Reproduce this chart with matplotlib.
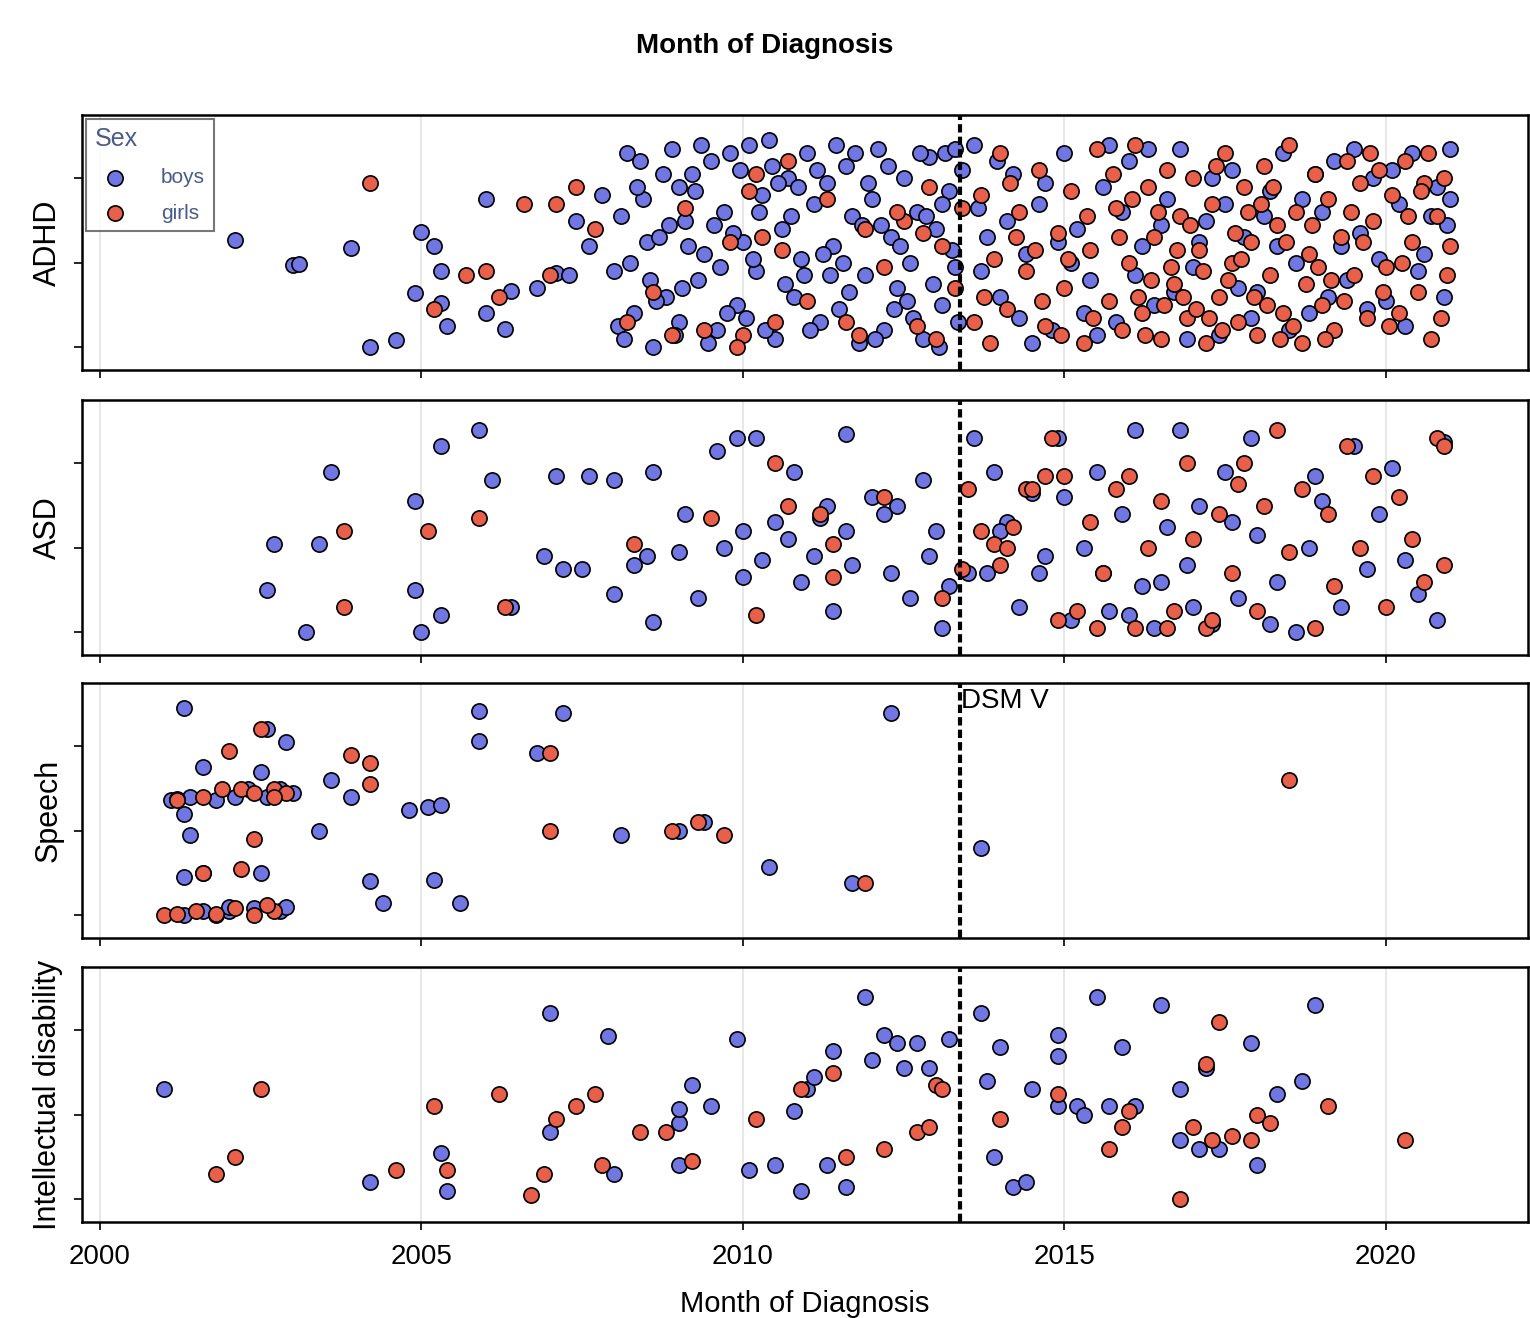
import matplotlib.pyplot as plt

plt.rcParams["font.family"] = "Liberation Sans"

# --- data: (year, jittered y) ---
adhd_boys = [(2002.1,1.27),(2003.0,0.97),(2003.1,0.98),(2003.9,1.17),(2004.2,0.0),(2004.6,0.08),
    (2005.0,1.36),(2004.9,0.64),(2005.2,1.2),(2005.3,0.9),(2005.4,0.25),(2005.3,0.52),(2006.0,0.4),
    (2006.0,1.76),(2006.4,0.66),(2006.3,0.22),(2006.8,0.7),(2007.1,0.88),(2007.3,0.85),(2007.4,1.5),
    (2007.6,1.2),(2007.8,1.8),(2008.0,0.9),(2008.1,1.55),(2008.2,2.3),(2008.3,0.4),(2008.4,2.2),(2008.5,1.25),
    (2008.6,0.0),(2008.7,1.3),(2008.8,0.6),(2008.9,2.35),(2009.0,1.9),(2009.0,0.3),(2009.1,1.5),(2009.2,2.05),
    (2009.3,0.8),(2009.4,1.1),(2009.5,2.2),(2009.6,0.2),(2009.7,1.6),(2009.8,2.3),(2009.9,0.5),(2010.0,1.25),
    (2010.1,2.4),(2010.2,0.9),(2010.3,1.8),(2010.4,2.45),(2010.5,0.1),(2010.6,1.4),(2010.7,2.0),(2010.8,0.6),
    (2010.9,1.05),(2011.0,2.3),(2011.1,1.7),(2011.2,0.3),(2011.3,1.95),(2011.4,1.2),(2011.5,0.45),(2011.6,2.15),
    (2011.7,1.55),(2011.8,0.05),(2011.9,0.85),(2012.0,1.75),(2012.1,2.35),(2012.2,0.2),(2012.3,1.3),(2012.4,0.7),
    (2012.5,2.0),(2012.6,1.0),(2012.7,1.6),(2012.8,0.1),(2012.9,2.25),(2013.0,1.4),(2013.1,0.5),(2013.2,1.85),
    (2013.3,0.95),(2013.4,2.1),
    (2008.05,0.25),(2008.25,1.0),(2008.45,1.75),(2008.65,0.55),(2008.85,1.45),(2009.05,0.7),(2009.25,1.85),
    (2009.45,0.05),(2009.65,0.95),(2009.85,1.35),(2010.05,0.35),(2010.25,1.6),(2010.45,2.15),(2010.65,0.75),
    (2010.85,1.9),(2011.05,0.2),(2011.25,1.1),(2011.45,2.4),(2011.65,0.65),(2011.85,1.45),(2012.05,0.1),
    (2012.25,2.15),(2012.45,1.2),(2012.65,0.35),(2012.85,1.55),(2013.05,0.0),(2013.25,1.15),(2013.35,0.3),
    (2010.15,1.05),(2010.75,1.55),(2011.35,0.85),(2011.95,1.95),(2012.55,0.55),(2013.15,2.3),(2009.35,2.4),
    (2008.15,0.1),(2008.35,1.9),(2008.55,0.8),(2008.75,2.05),(2008.95,0.15),(2009.15,1.2),(2009.55,1.45),
    (2009.75,0.4),(2009.95,2.1),(2010.35,0.2),(2010.55,1.95),(2010.95,0.85),(2011.15,2.1),(2011.55,1.0),
    (2011.75,2.3),(2012.15,1.45),(2012.35,0.45),(2012.75,2.3),(2012.95,0.75),(2013.1,1.7),(2013.3,2.35),
    (2013.6,2.4),(2013.8,1.3),(2014.0,0.6),(2014.2,2.05),(2014.4,1.1),(2014.6,1.7),(2014.8,0.2),(2015.0,2.3),
    (2015.2,1.4),(2015.4,0.8),(2015.6,1.9),(2015.8,0.3),(2016.0,2.2),(2016.2,1.2),(2016.4,0.5),(2016.6,1.75),
    (2016.8,2.35),(2017.0,0.95),(2017.2,1.5),(2017.4,0.15),(2017.6,2.1),(2017.8,1.3),(2018.0,0.65),(2018.2,1.85),
    (2018.4,2.3),(2018.6,1.0),(2018.8,0.4),(2019.0,1.6),(2019.2,2.2),(2019.4,0.8),(2019.6,1.35),(2019.8,2.0),
    (2020.0,0.55),(2020.2,1.7),(2020.4,2.3),(2020.6,1.1),(2020.8,1.9),(2020.9,0.6),(2021.0,2.35),
    (2013.7,0.9),(2014.1,1.5),(2014.5,0.05),(2014.9,1.25),(2015.3,0.4),(2015.7,2.4),(2016.1,0.85),(2016.5,1.45),
    (2016.9,0.1),(2017.3,2.0),(2017.7,0.7),(2018.1,1.55),(2018.5,0.2),(2018.9,2.05),(2019.3,1.2),(2019.7,0.45),
    (2020.1,2.1),(2020.5,0.9),(2020.95,1.45),
    (2013.65,1.65),(2013.95,2.2),(2014.3,0.35),(2014.7,1.95),(2015.1,1.0),(2015.5,0.15),(2015.9,1.6),
    (2016.3,2.35),(2016.7,0.65),(2017.1,1.25),(2017.5,1.7),(2017.9,0.35),(2018.3,1.2),(2018.7,1.75),
    (2019.1,0.6),(2019.5,2.35),(2019.9,1.05),(2020.3,0.25),(2020.7,1.55),(2021.0,1.75)]
adhd_girls = [(2004.2,1.95),(2005.2,0.45),(2005.7,0.85),(2006.0,0.9),(2006.2,0.6),(2006.6,1.7),(2007.0,0.85),
    (2007.1,1.7),(2007.4,1.9),(2007.7,1.4),(2008.2,0.3),(2008.6,0.65),(2009.1,1.65),(2009.4,0.2),(2009.8,1.25),
    (2010.0,0.15),(2010.1,1.85),(2010.3,1.3),(2010.5,0.3),(2010.7,2.2),(2011.0,0.55),(2011.3,1.75),(2011.6,0.3),
    (2011.9,1.4),(2012.2,0.95),(2012.5,1.5),(2012.7,0.25),(2012.9,1.9),(2013.1,1.2),(2013.3,0.7),(2013.4,1.65),
    (2009.9,0.0),(2010.2,2.05),(2010.6,1.15),(2011.8,0.15),(2012.4,1.6),(2012.8,1.35),(2013.0,0.1),(2008.9,0.15),
    (2013.6,0.3),(2013.7,1.8),(2013.9,1.05),(2014.0,2.3),(2014.1,0.45),(2014.3,1.6),(2014.4,0.9),(2014.6,2.1),
    (2014.7,0.25),(2014.9,1.35),(2015.0,0.7),(2015.1,1.85),(2015.3,0.05),(2015.4,1.15),(2015.5,2.35),(2015.7,0.55),
    (2015.8,1.65),(2015.9,0.2),(2016.0,1.0),(2016.1,2.4),(2016.2,0.4),(2016.3,1.9),(2016.4,1.3),(2016.5,0.1),
    (2016.6,2.1),(2016.7,0.75),(2016.8,1.55),(2016.9,0.35),(2017.0,2.0),(2017.1,1.15),(2017.2,0.05),(2017.3,1.7),
    (2017.4,0.6),(2017.5,2.3),(2017.6,1.0),(2017.7,0.3),(2017.8,1.9),(2017.9,1.25),(2018.0,0.15),(2018.1,2.15),
    (2018.2,0.85),(2018.3,1.45),(2018.4,0.4),(2018.5,2.4),(2018.6,1.6),(2018.7,0.05),(2018.8,1.1),(2018.9,2.05),
    (2019.0,0.5),(2019.1,1.75),(2019.2,0.2),(2019.3,1.3),(2019.4,2.2),(2019.5,0.85),(2019.6,1.95),(2019.7,0.35),
    (2019.8,1.5),(2019.9,2.1),(2020.0,0.95),(2020.1,1.8),(2020.2,0.4),(2020.3,2.2),(2020.4,1.25),(2020.5,0.65),
    (2020.6,1.95),(2020.7,0.1),(2020.8,1.55),(2020.9,2.0),(2021.0,1.2),
    (2013.75,0.6),(2014.15,1.95),(2014.55,1.15),(2014.95,0.15),(2015.35,1.55),(2015.75,2.05),(2016.15,0.6),
    (2016.45,1.6),(2016.75,1.15),(2017.05,0.45),(2017.35,2.15),(2017.65,1.35),(2017.95,0.6),(2018.25,1.9),
    (2018.55,0.25),(2018.85,1.45),(2019.15,0.8),(2019.45,1.6),(2019.75,2.3),(2020.05,0.25),(2020.35,1.55),
    (2020.65,2.3),(2020.95,0.85),(2016.55,0.5),(2017.15,0.9),(2017.45,0.2),(2018.05,1.7),(2016.95,1.45),
    (2013.85,0.05),(2014.25,1.3),(2014.65,0.55),(2015.05,1.05),(2015.45,0.35),(2015.85,1.3),(2016.25,0.15),
    (2016.65,0.95),(2017.25,0.35),(2017.55,0.8),(2017.85,1.6),(2018.15,0.5),(2018.45,1.25),(2018.75,0.75),
    (2019.05,0.1),(2019.35,0.55),(2019.65,1.25),(2019.95,0.65),(2020.25,1.0),(2020.55,1.85),(2020.85,0.35),
    (2016.05,1.75),(2016.35,0.8),(2016.85,0.6),(2017.75,1.05),(2018.35,0.1),(2018.95,0.95)]

asd_boys = [(2002.6,0.5),(2002.7,1.05),(2003.2,0.0),(2003.4,1.05),(2003.6,1.9),(2004.9,0.5),(2005.0,0.0),
    (2004.9,1.55),(2005.3,0.2),(2005.3,2.2),(2005.9,2.4),(2006.1,1.8),(2006.4,0.3),(2006.9,0.9),(2007.1,1.85),
    (2007.2,0.75),(2007.5,0.75),(2007.6,1.85),(2008.0,1.8),(2008.0,0.45),(2008.3,0.8),(2008.5,0.9),(2008.6,0.12),
    (2008.6,1.9),(2009.0,0.95),(2009.1,1.4),(2009.3,0.4),(2009.6,2.15),(2009.7,1.0),(2009.9,2.3),(2010.0,0.65),
    (2010.2,2.3),(2010.0,1.2),(2010.3,0.85),(2010.5,1.3),(2010.7,1.1),(2010.8,1.9),(2010.9,0.6),(2011.1,0.9),
    (2011.2,1.35),(2011.3,1.5),(2011.4,0.25),(2011.6,1.2),(2011.6,2.35),(2011.7,0.8),(2012.0,1.6),(2012.2,1.4),
    (2012.3,0.7),(2012.4,1.5),(2012.6,0.4),(2012.8,1.8),(2012.9,0.9),(2013.0,1.2),(2013.1,0.05),(2013.2,0.55),
    (2013.6,2.3),(2013.8,0.7),(2013.9,1.9),(2014.1,1.3),(2014.3,0.3),(2014.5,1.65),(2014.7,0.9),(2014.9,2.3),
    (2015.1,0.15),(2015.3,1.0),(2015.5,1.9),(2015.7,0.25),(2015.9,1.4),(2016.1,2.4),(2016.2,0.55),(2016.4,0.05),
    (2016.6,1.25),(2016.8,2.4),(2016.9,0.8),(2017.1,1.5),(2017.3,0.1),(2017.5,1.9),(2017.7,0.4),(2017.9,2.3),
    (2018.0,1.15),(2018.3,0.6),(2018.6,0.0),(2018.8,1.0),(2019.0,1.55),(2019.3,0.3),(2019.5,2.2),(2019.7,0.75),
    (2019.9,1.4),(2020.1,1.95),(2020.3,0.85),(2020.5,0.45),(2020.8,0.15),(2020.9,2.25),
    (2013.5,0.7),(2014.0,1.2),(2014.6,0.7),(2015.0,1.6),(2015.6,0.7),(2016.0,0.2),(2016.5,0.6),(2017.0,0.3),
    (2017.6,1.3),(2018.2,0.1),(2018.9,1.85)]
asd_girls = [(2003.8,0.3),(2003.8,1.2),(2005.1,1.2),(2005.9,1.35),(2006.3,0.3),(2008.3,1.05),(2009.5,1.35),
    (2010.2,0.2),(2010.5,2.0),(2010.7,1.5),(2011.2,1.4),(2011.4,0.65),(2011.4,1.05),(2012.2,1.6),(2013.1,0.4),
    (2013.4,0.75),(2013.5,1.7),(2013.7,1.2),(2013.9,1.05),(2014.0,0.8),(2014.2,1.25),(2014.4,1.7),(2014.7,1.85),
    (2014.8,2.3),(2014.9,0.15),(2015.2,0.25),(2015.4,1.3),(2015.6,0.7),(2015.8,1.7),(2016.1,0.05),(2016.3,1.0),
    (2016.5,1.55),(2016.7,0.25),(2016.9,2.0),(2017.0,1.1),(2017.2,0.05),(2017.4,1.4),(2017.6,0.7),(2017.8,2.0),
    (2018.0,0.25),(2018.1,1.5),(2018.3,2.4),(2018.5,0.95),(2018.7,1.7),(2018.9,0.05),(2019.1,1.4),(2019.2,0.55),
    (2019.4,2.2),(2019.6,1.0),(2019.8,1.85),(2020.0,0.3),(2020.2,1.6),(2020.4,1.1),(2020.6,0.6),(2020.8,2.3),
    (2020.9,0.8),(2020.9,2.2),
    (2014.1,1.0),(2014.5,1.7),(2015.0,1.85),(2015.5,0.05),(2016.0,1.85),(2016.6,0.05),(2017.3,0.15),(2017.7,1.75)]

speech_boys = [(2001.3,0.0),(2001.6,0.05),(2001.8,0.0),(2002.0,0.05),(2002.4,0.08),(2002.8,0.05),(2001.3,0.45),
    (2001.6,0.5),(2002.0,0.1),(2002.5,0.5),(2002.9,0.1),(2001.1,1.37),(2001.4,1.4),(2001.8,1.37),(2002.1,1.4),
    (2002.6,1.4),(2001.3,1.2),(2001.4,0.95),(2001.2,1.38),(2002.3,1.5),(2002.8,1.5),(2001.3,2.45),(2001.6,1.75),
    (2002.5,1.7),(2002.6,2.2),(2002.9,2.05),(2003.0,1.45),(2003.4,1.0),(2003.6,1.6),(2003.9,1.4),(2004.2,0.4),
    (2004.4,0.15),(2004.8,1.25),(2005.1,1.28),(2005.3,1.3),(2005.2,0.42),(2005.6,0.14),(2005.9,2.42),(2005.9,2.06),
    (2006.8,1.92),(2007.2,2.4),(2008.1,0.95),(2009.0,1.0),(2009.4,1.1),(2010.4,0.57),(2011.7,0.38),(2012.3,2.4),
    (2013.7,0.8)]
speech_girls = [(2001.0,0.0),(2001.2,0.02),(2001.5,0.05),(2001.8,0.02),(2002.1,0.08),(2002.4,0.0),(2002.7,0.05),
    (2002.6,0.12),(2001.6,0.5),(2002.2,0.55),(2002.4,0.9),(2001.2,1.37),(2001.6,1.4),(2001.9,1.5),(2002.2,1.5),
    (2002.4,1.45),(2002.7,1.5),(2002.9,1.45),(2002.0,1.95),(2002.5,2.2),(2002.7,1.4),(2003.9,1.9),(2004.2,1.55),
    (2004.2,1.8),(2007.0,1.92),(2007.0,1.0),(2008.9,1.0),(2009.3,1.1),(2009.7,0.95),(2011.9,0.38),(2018.5,1.6)]

id_boys = [(2001.0,1.3),(2004.2,0.2),(2005.3,0.55),(2005.4,0.1),(2007.0,2.2),(2007.0,0.8),(2007.9,1.93),
    (2008.0,0.3),(2009.0,0.4),(2009.0,0.9),(2009.0,1.07),(2009.2,1.35),(2009.5,1.1),(2009.9,1.9),(2010.1,0.35),
    (2010.5,0.4),(2010.8,1.05),(2010.9,0.1),(2011.0,1.3),(2011.1,1.45),(2011.3,0.4),(2011.4,1.75),(2011.6,0.15),
    (2011.9,2.4),(2012.0,1.65),(2012.2,1.95),(2012.4,1.85),(2012.5,1.55),(2012.7,1.85),(2012.9,1.55),(2013.2,1.9),
    (2013.7,2.2),(2013.8,1.4),(2013.9,0.5),(2014.0,1.8),(2014.2,0.15),(2014.4,0.2),(2014.5,1.3),(2014.9,1.7),
    (2014.9,1.95),(2014.9,1.1),(2015.2,1.1),(2015.3,1.0),(2015.5,2.4),(2015.7,1.1),(2015.9,1.8),(2016.1,1.1),
    (2016.5,2.3),(2016.8,0.7),(2016.8,1.3),(2017.1,0.6),(2017.2,1.55),(2017.4,0.6),(2017.9,1.85),(2018.0,0.4),
    (2018.3,1.25),(2018.7,1.4),(2018.9,2.3)]
id_girls = [(2001.8,0.3),(2002.1,0.5),(2002.5,1.3),(2004.6,0.35),(2005.2,1.1),(2005.4,0.35),(2006.2,1.25),
    (2006.7,0.05),(2006.9,0.3),(2007.1,0.95),(2007.4,1.1),(2007.7,1.25),(2007.8,0.4),(2008.4,0.8),(2008.8,0.8),
    (2009.2,0.45),(2010.2,0.95),(2010.9,1.3),(2011.4,1.5),(2011.6,0.5),(2012.2,0.6),(2012.7,0.8),(2012.9,0.85),
    (2013.0,1.35),(2013.1,1.3),(2014.0,0.95),(2014.9,1.25),(2015.7,0.6),(2015.9,0.85),(2016.0,1.05),(2016.8,0.0),
    (2017.0,0.85),(2017.3,0.7),(2017.2,1.6),(2017.4,2.1),(2017.6,0.75),(2017.9,0.7),(2018.0,1.0),(2018.2,0.9),
    (2019.1,1.1),(2020.3,0.7)]

panels = ["ADHD", "ASD", "Speech", "Intellectual disability"]
boys = [adhd_boys, asd_boys, speech_boys, id_boys]
girls = [adhd_girls, asd_girls, speech_girls, id_girls]
dsm5 = 2013.37
xticks = [2000, 2005, 2010, 2015, 2020]

boy_col = "#7077e3"
girl_col = "#e8604a"

fig = plt.figure(figsize=(15.3, 13.18), dpi=100)
tops = [115, 400, 683, 967]
h = 255
axes = []
for i, name in enumerate(panels):
    ax = fig.add_axes([82/1530, 1 - (tops[i] + h)/1318, 1446/1530, h/1318])
    axes.append(ax)
    for x in xticks:
        ax.axvline(x, color="#e3e3e3", lw=1.2, zorder=0)
    bx, by = zip(*boys[i])
    gx, gy = zip(*girls[i])
    ax.scatter(bx, by, s=120, c=boy_col, edgecolors="black", linewidths=1.2, label="boys", zorder=2)
    ax.scatter(gx, gy, s=120, c=girl_col, edgecolors="black", linewidths=1.2, label="girls", zorder=3)
    ax.axvline(dsm5, color="black", lw=3, ls=(0, (2, 1)), zorder=4)
    ax.set_xlim(1999.72, 2022.21)
    ax.set_ylim(-0.27, 2.75)
    ax.set_yticks([0, 1, 2])
    ax.set_yticklabels([])
    ax.set_xticks(xticks)
    ax.set_ylabel(name, fontsize=22)
    ax.tick_params(length=6, width=1.2)
    for s in ax.spines.values():
        s.set_linewidth(1.8)
    if i < 3:
        ax.set_xticklabels([])
    else:
        ax.tick_params(axis="x", labelsize=20, pad=10)
        ax.set_xlabel("Month of Diagnosis", fontsize=21, labelpad=14)

axes[2].text(dsm5 + 0.02, 2.45, "DSM V", fontsize=20)
leg = axes[0].legend(title="Sex", loc="upper left", fontsize=15, title_fontsize=18,
                     frameon=True, fancybox=False, edgecolor="#555555", alignment="left",
                     borderaxespad=0.2, handletextpad=1.2, labelspacing=0.8)
leg.get_frame().set_linewidth(1.5)
leg.get_title().set_color("#4a5a8a")
for t in leg.get_texts():
    t.set_color("#4a5a8a")
fig.suptitle("Month of Diagnosis", y=0.975, fontsize=20, fontweight="bold")
fig.savefig("out.png")
